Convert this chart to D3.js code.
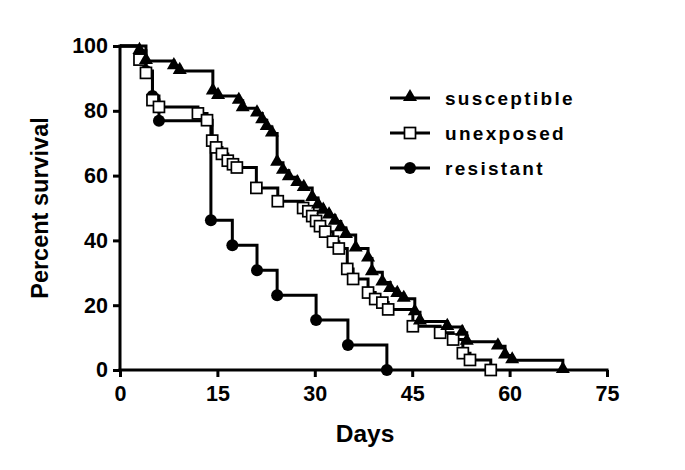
<!DOCTYPE html>
<html>
<head>
<meta charset="utf-8">
<script src="https://cdn.jsdelivr.net/npm/d3@7"></script>
<style>
  body { margin: 0; background: #fff; }
  svg text { font-family: "Liberation Sans", Arial, sans-serif; font-weight: bold; fill: #000; }
</style>
</head>
<body>
<div id="chart"></div>
<script>
// survival data: [day, percent surviving]
var susceptible = [[0,100],[3,98.5],[4,95.4],[8.3,93.8],[9.2,92.3],[14.3,86],[15.1,84.6],[18.3,83.1],
  [18.9,80.8],[21.1,79.2],[21.9,77.1],[22.6,75],[23.4,73],[24.2,64],[25.1,61.5],[26,59.5],[27.3,57.7],
  [28.3,56.2],[29.6,53.1],[30.5,50.8],[31.3,49.2],[32.2,47.7],[33.1,45.8],[34,43.8],[34.8,41.7],
  [36.3,37.5],[38.2,34.4],[38.8,30.2],[40.4,27],[41.6,25],[42.7,23.5],[43.7,22],[45.4,17.8],[46.2,15],
  [50.4,13.3],[52.7,11.5],[53.4,8.7],[58.2,7.3],[59.3,4.5],[60.4,3],[68.2,0]];
var unexposed = [[0,100],[3,95.8],[4,91.7],[5,83.3],[6,81.2],[12,79.2],[13.4,77.1],[14.2,70.8],[14.8,68.7],
  [15.7,66.7],[16.6,64.6],[17.4,63.5],[18,62.5],[21,56.2],[24.3,52.1],[28.2,50],[29,49],[29.6,47.5],
  [30.2,46],[30.8,44.4],[31.6,42.7],[32.8,39.6],[33.7,37.5],[35,31.2],[35.9,28.1],[38.2,23.9],[39.3,21.9],
  [40.4,20.8],[41.3,18.7],[45.1,13.5],[49.3,11.5],[51.3,9.4],[52.8,5.2],[53.9,3.1],[57.1,0]];
var resistant = [[0,100],[4,92.3],[5,84.6],[6,76.9],[14,46.2],[17.3,38.5],[21.1,30.8],[24.2,23.1],
  [30.2,15.4],[35.1,7.7],[41.1,0]];

var seriesNames = ["susceptible", "unexposed", "resistant"];
var xTicks = [0, 15, 30, 45, 60, 75];
var yTicks = [0, 20, 40, 60, 80, 100];

var width = 685, height = 470;
var svg = d3.select("#chart").append("svg")
  .attr("width", width).attr("height", height);

var x = d3.scaleLinear().domain([0, 75]).range([120, 607]);
var y = d3.scaleLinear().domain([0, 100]).range([370, 46]);

// axes
var yAxis = svg.append("g")
  .attr("transform", "translate(120,0)")
  .call(d3.axisLeft(y).tickValues(yTicks).tickSize(7).tickSizeOuter(0).tickPadding(5));
var xAxis = svg.append("g")
  .attr("transform", "translate(0,370)")
  .call(d3.axisBottom(x).tickValues(xTicks).tickSize(7).tickSizeOuter(0).tickPadding(9));
[xAxis, yAxis].forEach(function(a) {
  a.select(".domain").attr("stroke", "#000").attr("stroke-width", 3);
  a.selectAll(".tick line").attr("stroke", "#000").attr("stroke-width", 3);
  a.selectAll(".tick text").attr("font-size", 21.5).attr("font-family", null);
});
// extend the axis lines over the corner
xAxis.select(".domain").attr("d", "M118.5,0H608.5");
yAxis.select(".domain").attr("d", "M0,44.5V371.5");

svg.append("text")
  .attr("transform", "translate(48,208) rotate(-90)")
  .attr("text-anchor", "middle")
  .attr("font-size", 23.5)
  .text("Percent survival");
svg.append("text")
  .attr("x", 365).attr("y", 442)
  .attr("text-anchor", "middle")
  .attr("font-size", 24.5)
  .text("Days");

var line = d3.line()
  .curve(d3.curveStepAfter)
  .x(function(d) { return x(d[0]); })
  .y(function(d) { return y(d[1]); });

var triangle = d3.symbol().type(d3.symbolTriangle).size(85);

function drawMarker(g, kind, px, py) {
  if (kind === "susceptible") {
    g.append("path").attr("d", triangle())
      .attr("transform", "translate(" + px + "," + (py - 1) + ")")
      .attr("fill", "#000");
  } else if (kind === "unexposed") {
    g.append("rect").attr("x", px - 5.5).attr("y", py - 5.5)
      .attr("width", 11).attr("height", 11)
      .attr("fill", "#fff").attr("stroke", "#000").attr("stroke-width", 1.7);
  } else {
    g.append("circle").attr("cx", px).attr("cy", py).attr("r", 6)
      .attr("fill", "#000");
  }
}

var allData = { susceptible: susceptible, unexposed: unexposed, resistant: resistant };

["resistant", "unexposed", "susceptible"].forEach(function(name) {
  var data = allData[name];
  var g = svg.append("g").attr("class", "series " + name);
  g.append("path").datum(data)
    .attr("d", line)
    .attr("fill", "none")
    .attr("stroke", "#000")
    .attr("stroke-width", 3);
  data.slice(1).forEach(function(d) {
    drawMarker(g, name, x(d[0]), y(d[1]));
  });
});

// legend
var legend = svg.append("g").attr("class", "legend");
seriesNames.forEach(function(name, i) {
  var ly = 98 + i * 35;
  legend.append("line")
    .attr("x1", 390).attr("x2", 430).attr("y1", ly).attr("y2", ly)
    .attr("stroke", "#000").attr("stroke-width", 3);
  drawMarker(legend, name, 410, ly);
  legend.append("text")
    .attr("x", 445).attr("y", ly)
    .attr("dy", "0.35em")
    .attr("font-size", 19)
    .attr("letter-spacing", 2.3)
    .text(name);
});
</script>
</body>
</html>
